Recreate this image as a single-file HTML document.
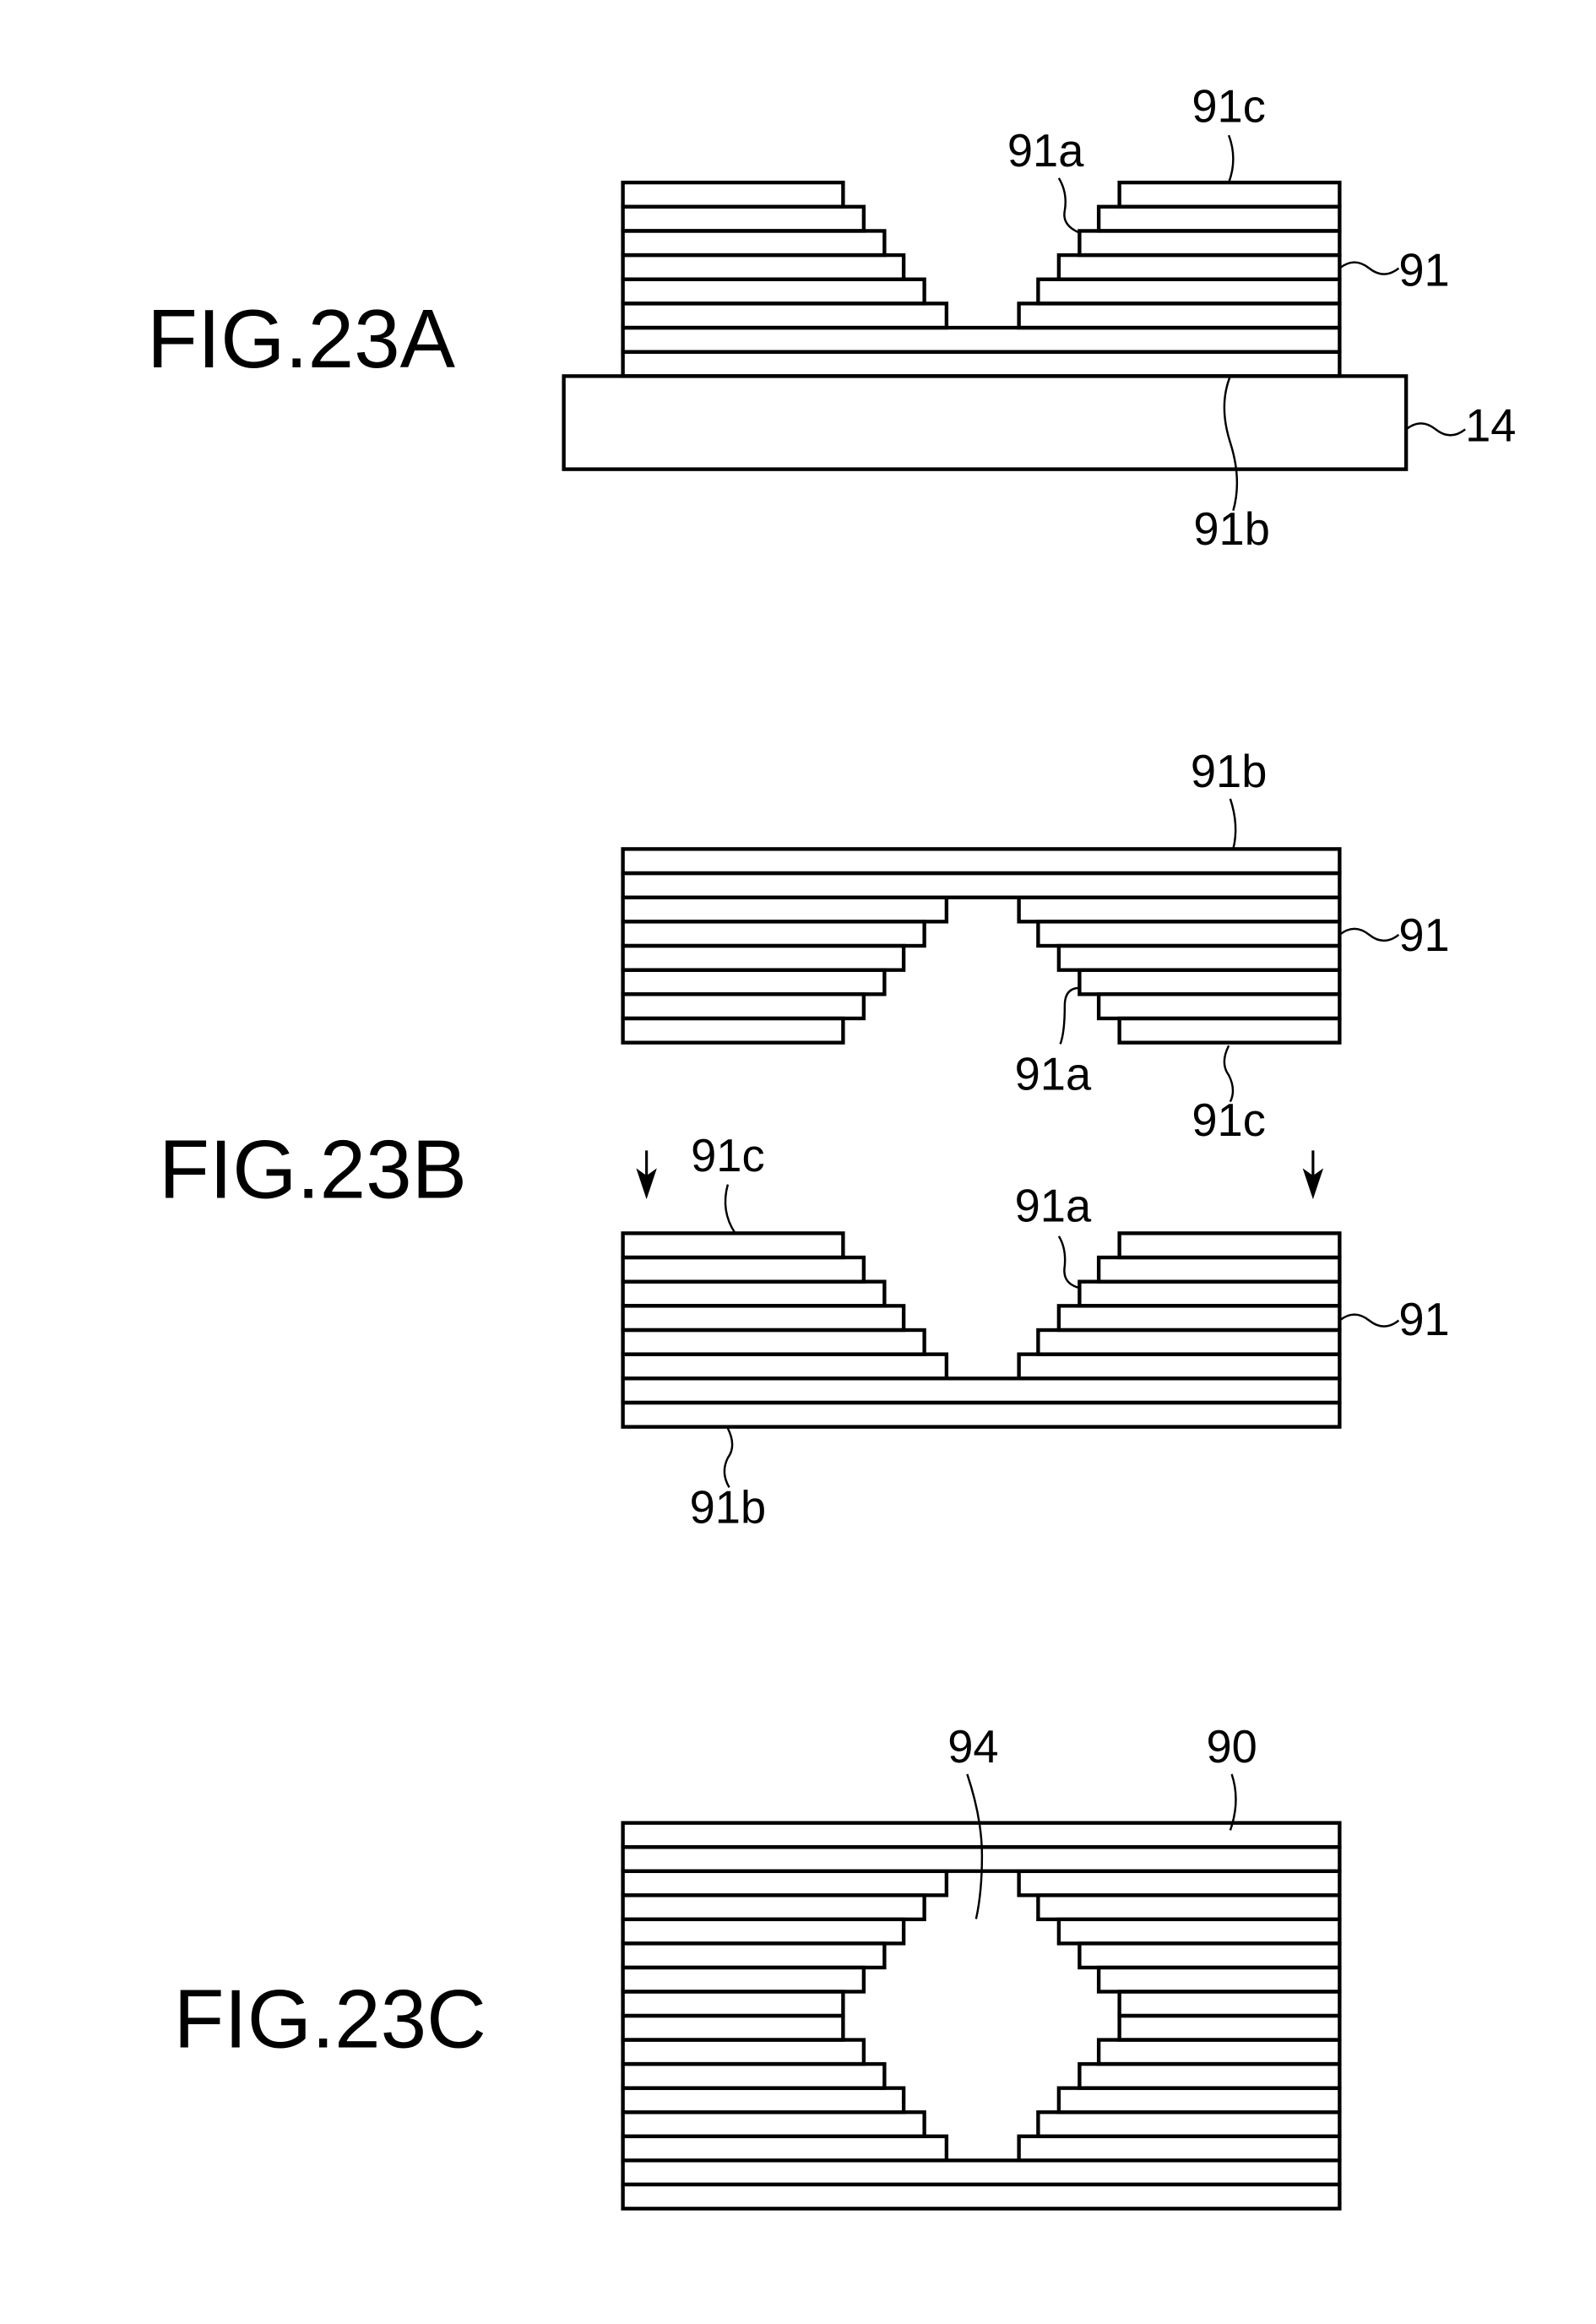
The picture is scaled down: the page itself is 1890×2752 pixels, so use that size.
<!DOCTYPE html>
<html><head><meta charset="utf-8"><style>
html,body{margin:0;padding:0;background:#fff;}
svg{display:block;}
text{font-family:"Liberation Sans",Arial,sans-serif;fill:#000;}
</style></head><body>
<svg width="1890" height="2752" viewBox="0 0 1080 1572.57" xmlns="http://www.w3.org/2000/svg">
<g transform="translate(0.5,0.5)">
<g fill="none" stroke="#000" stroke-width="2.5">
<!-- FIG A -->
<rect x="381" y="254" width="570" height="63"/>
<rect x="421" y="123" width="149" height="16.375"/><rect x="757" y="123" width="149" height="16.375"/>
<rect x="421" y="139.375" width="163" height="16.375"/><rect x="743" y="139.375" width="163" height="16.375"/>
<rect x="421" y="155.75" width="177" height="16.375"/><rect x="730" y="155.75" width="176" height="16.375"/>
<rect x="421" y="172.125" width="190" height="16.375"/><rect x="716" y="172.125" width="190" height="16.375"/>
<rect x="421" y="188.5" width="204" height="16.375"/><rect x="702" y="188.5" width="204" height="16.375"/>
<rect x="421" y="204.875" width="219" height="16.375"/><rect x="689" y="204.875" width="217" height="16.375"/>
<rect x="421" y="221.25" width="485" height="16.375"/>
<rect x="421" y="237.625" width="485" height="16.375"/>
<!-- FIG B top -->
<rect x="421" y="574" width="485" height="16.375"/>
<rect x="421" y="590.375" width="485" height="16.375"/>
<rect x="421" y="606.75" width="219" height="16.375"/><rect x="689" y="606.75" width="217" height="16.375"/>
<rect x="421" y="623.125" width="204" height="16.375"/><rect x="702" y="623.125" width="204" height="16.375"/>
<rect x="421" y="639.5" width="190" height="16.375"/><rect x="716" y="639.5" width="190" height="16.375"/>
<rect x="421" y="655.875" width="177" height="16.375"/><rect x="730" y="655.875" width="176" height="16.375"/>
<rect x="421" y="672.25" width="163" height="16.375"/><rect x="743" y="672.25" width="163" height="16.375"/>
<rect x="421" y="688.625" width="149" height="16.375"/><rect x="757" y="688.625" width="149" height="16.375"/>
<!-- FIG B bottom -->
<rect x="421" y="834" width="149" height="16.375"/><rect x="757" y="834" width="149" height="16.375"/>
<rect x="421" y="850.375" width="163" height="16.375"/><rect x="743" y="850.375" width="163" height="16.375"/>
<rect x="421" y="866.75" width="177" height="16.375"/><rect x="730" y="866.75" width="176" height="16.375"/>
<rect x="421" y="883.125" width="190" height="16.375"/><rect x="716" y="883.125" width="190" height="16.375"/>
<rect x="421" y="899.5" width="204" height="16.375"/><rect x="702" y="899.5" width="204" height="16.375"/>
<rect x="421" y="915.875" width="219" height="16.375"/><rect x="689" y="915.875" width="217" height="16.375"/>
<rect x="421" y="932.25" width="485" height="16.375"/>
<rect x="421" y="948.625" width="485" height="16.375"/>
<!-- FIG C -->
<rect x="421" y="1233" width="485" height="16.31"/>
<rect x="421" y="1249.31" width="485" height="16.31"/>
<rect x="421" y="1265.63" width="219" height="16.31"/><rect x="689" y="1265.63" width="217" height="16.31"/>
<rect x="421" y="1281.94" width="204" height="16.31"/><rect x="702" y="1281.94" width="204" height="16.31"/>
<rect x="421" y="1298.25" width="190" height="16.31"/><rect x="716" y="1298.25" width="190" height="16.31"/>
<rect x="421" y="1314.56" width="177" height="16.31"/><rect x="730" y="1314.56" width="176" height="16.31"/>
<rect x="421" y="1330.88" width="163" height="16.31"/><rect x="743" y="1330.88" width="163" height="16.31"/>
<rect x="421" y="1347.19" width="149" height="16.31"/><rect x="757" y="1347.19" width="149" height="16.31"/>
<rect x="421" y="1363.5" width="149" height="16.31"/><rect x="757" y="1363.5" width="149" height="16.31"/>
<rect x="421" y="1379.81" width="163" height="16.31"/><rect x="743" y="1379.81" width="163" height="16.31"/>
<rect x="421" y="1396.13" width="177" height="16.31"/><rect x="730" y="1396.13" width="176" height="16.31"/>
<rect x="421" y="1412.44" width="190" height="16.31"/><rect x="716" y="1412.44" width="190" height="16.31"/>
<rect x="421" y="1428.75" width="204" height="16.31"/><rect x="702" y="1428.75" width="204" height="16.31"/>
<rect x="421" y="1445.06" width="219" height="16.31"/><rect x="689" y="1445.06" width="217" height="16.31"/>
<rect x="421" y="1461.38" width="485" height="16.31"/>
<rect x="421" y="1477.69" width="485" height="16.31"/>
</g>
<!-- leaders -->
<g fill="none" stroke="#000" stroke-width="1.4">
<path d="M831,91 q6,16 0,32"/>
<path d="M716,120 q6,10 4,22 q-2,10 10,15"/>
<path d="M906,181 q10,-8 20,0 q10,8 20,0"/>
<path d="M951,290 q10,-8 20,0 q10,8 20,0"/>
<path d="M832,254 q-8,20 0,45 q8,25 2,46"/>
<path d="M832,540 q6,18 2,34"/>
<path d="M906,632 q10,-8 20,0 q10,8 20,0"/>
<path d="M730,668 q-10,0 -10,12 q0,18 -3,26"/>
<path d="M831,707 q-6,12 0,20 q5,10 1,18"/>
<path d="M492,801 q-5,18 5,33"/>
<path d="M716,836 q5,8 4,20 q-2,12 10,15"/>
<path d="M906,893 q10,-8 20,0 q10,8 20,0"/>
<path d="M492,966 q6,12 0,20 q-5,10 1,20"/>
<path d="M654,1200 q10,30 10,55 q0,25 -4,43"/>
<path d="M833,1200 q6,18 -1,38"/>
</g>
<!-- arrows -->
<g stroke="#000" stroke-width="1.8">
<line x1="437" y1="778" x2="437" y2="798"/>
<line x1="888" y1="778" x2="888" y2="798"/>
</g>
<path d="M430,790 L437,811 L444,790 L437,795 Z" fill="#000"/>
<path d="M881,790 L888,811 L895,790 L888,795 Z" fill="#000"/>
<!-- labels -->
<g font-size="31" text-anchor="middle">
<text x="831" y="82">91c</text>
<text x="707" y="112">91a</text>
<text x="833" y="368">91b</text>
<text x="831" y="532">91b</text>
<text x="712" y="737">91a</text>
<text x="831" y="768">91c</text>
<text x="492" y="792">91c</text>
<text x="712" y="826">91a</text>
<text x="492" y="1030">91b</text>
<text x="658" y="1192">94</text>
<text x="833" y="1192">90</text>
</g>
<g font-size="31">
<text x="946" y="193">91</text>
<text x="991" y="298">14</text>
<text x="946" y="643">91</text>
<text x="946" y="903">91</text>
</g>
<g font-size="56">
<text x="99" y="248">FIG.23A</text>
<text x="107" y="810">FIG.23B</text>
<text x="117" y="1385">FIG.23C</text>
</g>
</g>
</svg>
</body></html>
